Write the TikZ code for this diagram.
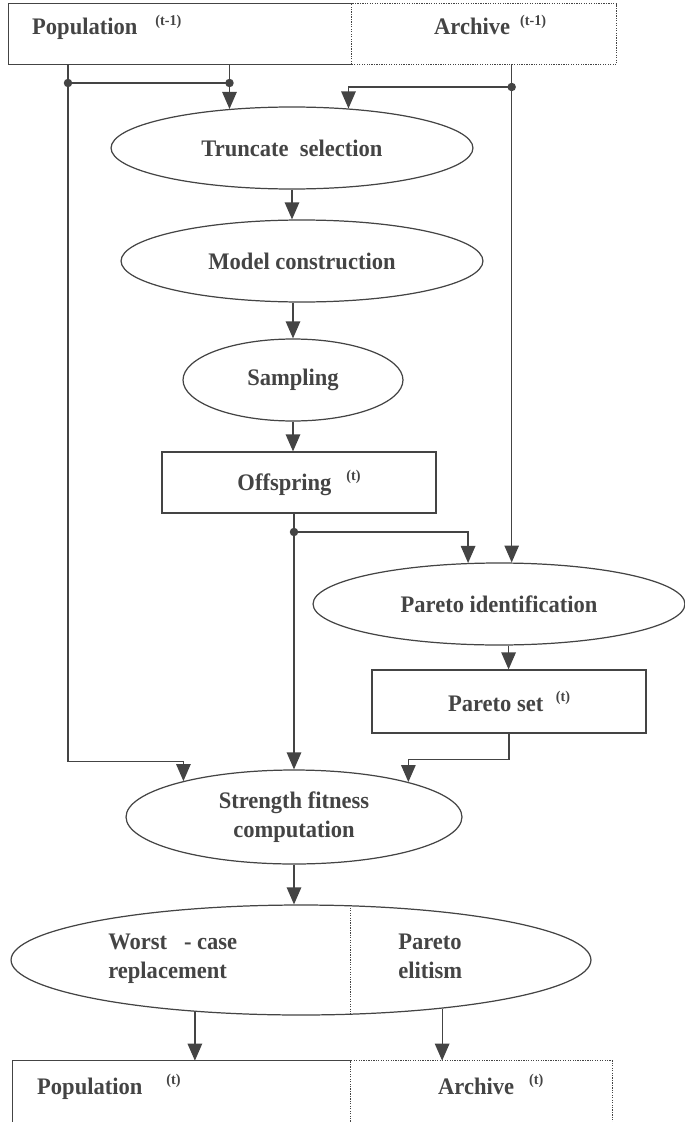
\documentclass[tikz,border=0pt]{standalone}
\usepackage{fontspec}
\setmainfont{Liberation Serif}[FakeStretch=0.95]
\usepackage{xcolor}
\usetikzlibrary{arrows.meta}
\usetikzlibrary{shapes.geometric}
\definecolor{figink}{HTML}{444444}

\begin{document}
\begin{tikzpicture}[x=0.02cm,y=-0.02cm,
        every node/.style={font=\fontsize{13.5}{16.5}\selectfont\bfseries,text=figink},
        box/.style={rectangle,inner sep=0pt},
        blob/.style={ellipse,draw=figink,line width=0.7pt,inner sep=0pt,align=center},
        link/.style={draw=figink,line width=0.7pt},
        fine/.style={link,dash pattern=on 0.7pt off 0.7pt},
        flow/.style={link,-{Triangle[length=0.34cm,width=0.29cm]}}]
        \newcommand{\figspeadotrad}{0.085cm}
        \newcommand{\figspeasup}[1]{\raisebox{0.2cm}{\fontsize{8.5}{9}\selectfont #1}}
        \useasboundingbox (0,0) rectangle (685,1122);
        \clip (0,0) rectangle (685,1122);
        \node[box,minimum width=6.86cm,minimum height=1.2cm] (popold) at (180.5,34) {};
        \node[box,minimum width=5.28cm,minimum height=1.2cm] (arcold) at (484,34) {};
        \draw[link] (popold.north east) -- (popold.north west) -- (popold.south west) -- (popold.south east);
        \draw[fine] (arcold.south west) rectangle (arcold.north east);
        \node[anchor=base west] (popoldtxt) at (26,35) {Population\hspace{0.36cm}\figspeasup{(t-1)}};
        \node[anchor=base west] (arcoldtxt) at (428,35) {Archive\hspace{0.2cm}\figspeasup{(t-1)}};
        \node[blob,minimum width=7.24cm,minimum height=1.64cm] (trunc) at (292,148) {Truncate\ \ selection};
        \node[blob,minimum width=7.24cm,minimum height=1.64cm] (model) at (302,261) {Model construction};
        \node[blob,minimum width=4.4cm,minimum height=1.64cm] (samp) at (293,380) {Sampling};
        \node[box,draw=figink,line width=0.7pt,minimum width=5.48cm,minimum height=1.22cm] (offspring) at (299,482.5) {Offspring\hspace{0.3cm}\figspeasup{(t)}};
        \node[blob,minimum width=7.44cm,minimum height=1.64cm] (pident) at (499,604) {Pareto identification};
        \node[box,draw=figink,line width=0.7pt,minimum width=5.48cm,minimum height=1.26cm] (pset) at (509,701.5) {Pareto set\hspace{0.25cm}\figspeasup{(t)}};
        \node[blob,minimum width=6.72cm,minimum height=1.88cm] (strength) at (294,817) {Strength fitness\\computation};
        \node[blob,minimum width=11.6cm,minimum height=2.2cm] (worst) at (301,960) {};
        \node[anchor=north west,inner sep=0pt,align=left] (worsttxt) at (108,934) {Worst\ \ \ - case\\replacement};
        \node[anchor=north west,inner sep=0pt,align=left] (elitetxt) at (398,934) {Pareto\\elitism};
        \node[box,minimum width=6.76cm,minimum height=1.6cm] (popnew) at (182,1101) {};
        \node[box,minimum width=5.22cm,minimum height=1.6cm] (arcnew) at (481.5,1101) {};
        \draw[link] (popnew.south east) -- (popnew.south west) -- (popnew.north west) -- (popnew.north east);
        \draw[fine] (arcnew.south west) rectangle (arcnew.north east);
        \node[anchor=base west] (popnewtxt) at (31,1094) {Population\hspace{0.48cm}\figspeasup{(t)}};
        \node[anchor=base west] (arcnewtxt) at (432,1094) {Archive\hspace{0.3cm}\figspeasup{(t)}};
        \coordinate (jpa) at (68,83);
        \coordinate (jpb) at (trunc.148.2 |- 0,83);
        \coordinate (jar) at (pident.73.6 |- 0,87);
        \coordinate (joff) at (strength.north |- 0,532);
        \draw[flow] (popold.south -| jpa) -- ++(0,697) -| (strength.162.9);
        \draw[link] (jpa) -- (jpb);
        \draw[flow] (popold.south -| jpb) -- (trunc.148.2);
        \draw[flow] (arcold.south -| jar) -- (pident.73.6);
        \draw[flow] (jar) -| (trunc.35.9);
        \draw[flow] (trunc.south) -- (trunc.south |- model.north);
        \draw[flow] (samp.north |- model.south) -- (samp.north);
        \draw[flow] (samp.south) -- (samp.south |- offspring.north);
        \draw[flow] (offspring.south -| strength.north) -- (strength.north);
        \draw[flow] (joff) -| (pident.127.5);
        \draw[flow] (pident.283.7) -- (pident.283.7 |- pset.north);
        \draw[flow] (pset.south) -- ++(0,26) -| (strength.17.6);
        \draw[flow] (strength.south) -- (strength.south |- worst.north);
        \draw[fine,line width=0.5pt] (worst.48.5) -- (worst.-48.5);
        \draw[flow] (worst.206) -- (worst.206 |- popnew.north);
        \draw[flow] (worst.-19.8) -- (worst.-19.8 |- arcnew.north);
        \fill[figink] (jpa) circle (\figspeadotrad);
        \fill[figink] (jpb) circle (\figspeadotrad);
        \fill[figink] (jar) circle (\figspeadotrad);
        \fill[figink] (joff) circle (\figspeadotrad);
\end{tikzpicture}
\end{document}
